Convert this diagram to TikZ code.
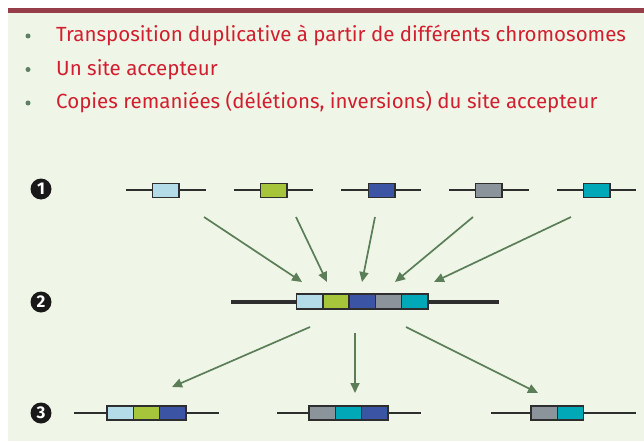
\documentclass[tikz,border=0pt]{standalone}
\usepackage{fontspec}
\setmainfont{Fira Sans}
\setsansfont{Fira Sans}
\usetikzlibrary{arrows.meta}
\definecolor{bg}{HTML}{EFF5E7}
\definecolor{bar}{HTML}{963F4A}
\definecolor{txt}{HTML}{D21F2F}
\definecolor{bul}{HTML}{5F7F62}
\definecolor{arr}{HTML}{5B7E58}
\definecolor{cA}{HTML}{B4DCE8}
\definecolor{cB}{HTML}{A6C53B}
\definecolor{cC}{HTML}{3B55A4}
\definecolor{cD}{HTML}{8B949A}
\definecolor{cE}{HTML}{00A8B8}
\definecolor{edge}{HTML}{2E2E2E}
\tikzset{
  chrom/.style={line width=1.5pt, draw=edge},
  thickchrom/.style={line width=3.5pt, draw=edge},
  gene/.style={draw=edge, line width=1.5pt, minimum width=26.3pt, minimum height=14pt, inner sep=0pt, outer sep=0pt, anchor=west},
  arrowline/.style={draw=arr, line width=1.7pt, -{Triangle[length=10pt,width=9pt]}},
  bullettext/.style={anchor=base west, text=txt, font=\fontsize{20.5}{24}\selectfont, inner sep=0pt},
  bulletdot/.style={circle, fill=bul, minimum size=5pt, inner sep=0pt},
  numlabel/.style={circle, fill=black!90, minimum size=21pt, inner sep=0pt, text=white, font=\bfseries\fontsize{17}{17}\selectfont}
}
\begin{document}
\begin{tikzpicture}[x=1pt,y=-1pt]
\useasboundingbox (0,0) rectangle (644,441);
\fill[white] (0,0) rectangle (644,441);
\fill[bg] (8,13) rectangle (644,441);
\fill[bar] (8,8) rectangle (644,13.5);
% bullets
\node[bulletdot] (d1) at (28,36) {};
\node[bulletdot] (d2) at (28,69.5) {};
\node[bulletdot] (d3) at (28,103) {};
\node[bullettext] (t1) at (56,42) {Transposition duplicative à partir de différents chromosomes};
\node[bullettext] (t2) at (56,75.5) {Un site accepteur};
\node[bullettext] (t3) at (56,109) {Copies remaniées (délétions, inversions) du site accepteur};
% number labels
\node[numlabel] (n1) at (41,189) {1};
\node[numlabel] (n2) at (41,302) {2};
\node[numlabel] (n3) at (41,413) {3};
% row 1
\coordinate (l1a) at (126,190); \coordinate (l1b) at (206,190);
\coordinate (l2a) at (234,190); \coordinate (l2b) at (313,190);
\coordinate (l3a) at (341,190); \coordinate (l3b) at (421,190);
\coordinate (l4a) at (449,190); \coordinate (l4b) at (529,190);
\coordinate (l5a) at (557,190); \coordinate (l5b) at (636,190);
\draw[chrom] (l1a) -- (l1b);
\draw[chrom] (l2a) -- (l2b);
\draw[chrom] (l3a) -- (l3b);
\draw[chrom] (l4a) -- (l4b);
\draw[chrom] (l5a) -- (l5b);
\node[gene, fill=cA] (g1) at (152.5,190.5) {};
\node[gene, fill=cB] (g2) at (260.5,190.5) {};
\node[gene, fill=cC] (g3) at (368.5,190.5) {};
\node[gene, fill=cD] (g4) at (475.5,190.5) {};
\node[gene, fill=cE] (g5) at (583.5,190.5) {};
% row 2
\coordinate (m1) at (231,302); \coordinate (m2) at (499,302);
\draw[thickchrom] (m1) -- (m2);
\node[gene, fill=cA, minimum height=15pt] (h1) at (296.5,301.5) {};
\node[gene, fill=cB, minimum height=15pt] (h2) at (h1.east) {};
\node[gene, fill=cC, minimum height=15pt] (h3) at (h2.east) {};
\node[gene, fill=cD, minimum height=15pt] (h4) at (h3.east) {};
\node[gene, fill=cE, minimum height=15pt] (h5) at (h4.east) {};
% row 3
\coordinate (p1a) at (74,413); \coordinate (p1b) at (219,413);
\coordinate (p2a) at (277,413); \coordinate (p2b) at (421,413);
\coordinate (p3a) at (491,413); \coordinate (p3b) at (636,413);
\draw[chrom] (p1a) -- (p1b);
\draw[chrom] (p2a) -- (p2b);
\draw[chrom] (p3a) -- (p3b);
\node[gene, fill=cA] (k1) at (107,413) {};
\node[gene, fill=cB] (k2) at (k1.east) {};
\node[gene, fill=cC] (k3) at (k2.east) {};
\node[gene, fill=cD] (q1) at (309,413) {};
\node[gene, fill=cE] (q2) at (q1.east) {};
\node[gene, fill=cC] (q3) at (q2.east) {};
\node[gene, fill=cD] (r1) at (531,413) {};
\node[gene, fill=cE] (r2) at (r1.east) {};
% arrows row 1 -> 2
\coordinate (s1) at (204,217); \coordinate (e1) at (302,282);
\coordinate (s2) at (296,217); \coordinate (e2) at (327,282);
\coordinate (s3) at (375,217); \coordinate (e3) at (362,282);
\coordinate (s4) at (473,217); \coordinate (e4) at (395,282);
\coordinate (s5) at (571,217); \coordinate (e5) at (434,282);
\draw[arrowline] (s1) -- (e1);
\draw[arrowline] (s2) -- (e2);
\draw[arrowline] (s3) -- (e3);
\draw[arrowline] (s4) -- (e4);
\draw[arrowline] (s5) -- (e5);
% arrows row 2 -> 3
\coordinate (u1) at (310,327); \coordinate (v1) at (172,387);
\coordinate (u2) at (355,333); \coordinate (v2) at (355,393);
\coordinate (u3) at (406,327); \coordinate (v3) at (538,393);
\draw[arrowline] (u1) -- (v1);
\draw[arrowline] (u2) -- (v2);
\draw[arrowline] (u3) -- (v3);
\end{tikzpicture}
\end{document}
